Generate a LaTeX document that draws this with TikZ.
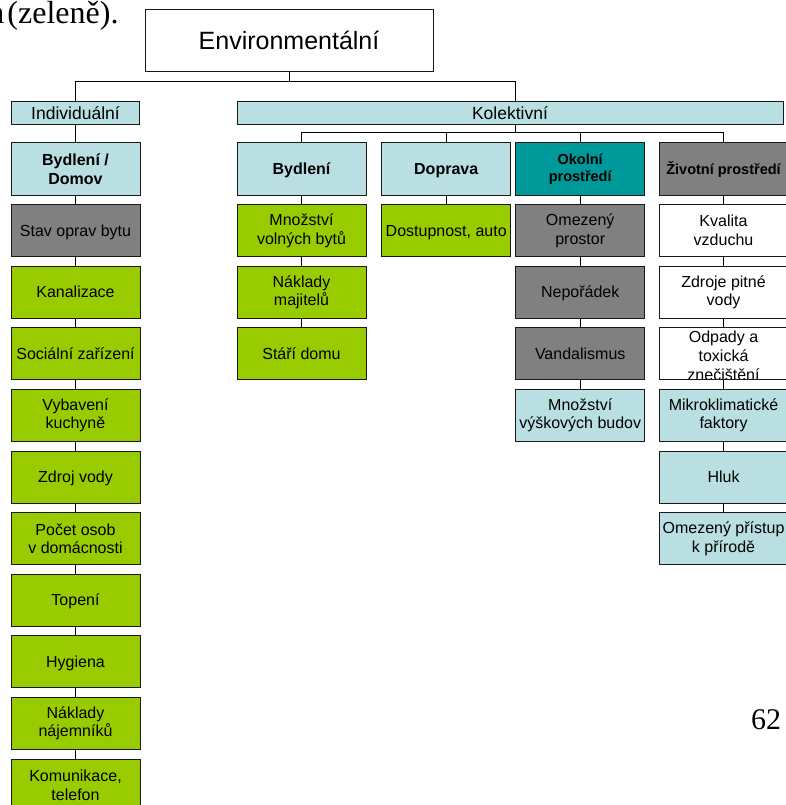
\documentclass[tikz,border=0pt]{standalone}
\usepackage{fontspec}
\setmainfont{Liberation Sans}
\newfontfamily\serifface{Liberation Serif}
\definecolor{cellblue}{RGB}{185,223,226}
\definecolor{cellgreen}{RGB}{153,204,0}
\definecolor{cellgray}{RGB}{128,128,128}
\definecolor{cellteal}{RGB}{0,153,153}
\begin{document}
\begin{tikzpicture}[x=1pt,y=-1pt,
  every node/.style={inner sep=0pt, outer sep=0pt},
  boxline/.style={draw=black!90, line width=1pt},
  link/.style={draw=black, line width=1pt},
  cell/.style={boxline, minimum width=129pt, minimum height=52pt, align=center,
    font=\fontsize{16}{18.7}\selectfont},
  head/.style={cell, font=\fontsize{16}{19.2}\selectfont\bfseries},
  headsmall/.style={cell, font=\fontsize{14.5}{17.4}\selectfont\bfseries},
  one/.style={text height=11.5pt, text depth=0pt},
  onesmall/.style={text height=10.4pt, text depth=0pt},
  fblue/.style={fill=cellblue},
  fgreen/.style={fill=cellgreen},
  fgray/.style={fill=cellgray},
  fteal/.style={fill=cellteal},
  fwhite/.style={fill=white}]
\useasboundingbox (0,0) rectangle (786,805);
\clip (0,0) rectangle (786,805);

% running text and page number
\node[font=\serifface\fontsize{32}{38}\selectfont, anchor=base east] (capt) at (118.5,24) {n\hspace{3pt}(zeleně).};
\node[font=\serifface\fontsize{30}{36}\selectfont, anchor=base east] (pnum) at (781,729) {62};

% top levels
\node[boxline, fill=white, minimum width=288pt, minimum height=62pt,
  font=\fontsize{25}{30}\selectfont, text height=17.9pt, text depth=0pt] (env) at (289,41) {Environmentální};
\node[boxline, fblue, minimum width=128pt, minimum height=23pt,
  font=\fontsize{17.5}{21}\selectfont, text height=12.5pt, text depth=0pt] (ind) at (75.5,113.5) {Individuální};
\node[boxline, fblue, minimum width=546pt, minimum height=23pt,
  font=\fontsize{17.5}{21}\selectfont, text height=12.5pt, text depth=0pt] (kol) at (510,113.5) {Kolektivní};

% individual column
\node[head, fblue] (ind0) at (75.5,169) {Bydlení /\\Domov};
\node[cell, one, fgray] (ind1) at (75.5,230.6) {Stav oprav bytu};
\node[cell, one, fgreen] (ind2) at (75.5,292.2) {Kanalizace};
\node[cell, one, fgreen] (ind3) at (75.5,353.8) {Sociální zařízení};
\node[cell, fgreen] (ind4) at (75.5,415.4) {Vybavení\\kuchyně};
\node[cell, one, fgreen] (ind5) at (75.5,477) {Zdroj vody};
\node[cell, fgreen] (ind6) at (75.5,538.6) {Počet osob\\v domácnosti};
\node[cell, one, fgreen] (ind7) at (75.5,600.2) {Topení};
\node[cell, one, fgreen] (ind8) at (75.5,661.8) {Hygiena};
\node[cell, fgreen] (ind9) at (75.5,723.4) {Náklady\\nájemníků};
\node[cell, fgreen] (ind10) at (75.5,785) {Komunikace,\\telefon};

% housing
\node[head, one, fblue] (byd0) at (301.5,169) {Bydlení};
\node[cell, fgreen] (byd1) at (301.5,230.6) {Množství\\volných bytů};
\node[cell, fgreen] (byd2) at (301.5,292.2) {Náklady\\majitelů};
\node[cell, one, fgreen] (byd3) at (301.5,353.8) {Stáří domu};

% transport
\node[head, one, fblue] (dop0) at (446.2,169) {Doprava};
\node[cell, one, fgreen] (dop1) at (446.2,230.6) {Dostupnost, auto};

% surroundings
\node[headsmall, fteal] (oko0) at (580.2,169) {Okolní\\prostředí};
\node[cell, fgray] (oko1) at (580.2,230.6) {Omezený\\prostor};
\node[cell, one, fgray] (oko2) at (580.2,292.2) {Nepořádek};
\node[cell, one, fgray] (oko3) at (580.2,353.8) {Vandalismus};
\node[cell, fblue] (oko4) at (580.2,415.4) {Množství\\výškových budov};

% environment
\node[headsmall, onesmall, fgray] (ziv0) at (723.5,169) {Životní prostředí};
\node[cell, fwhite] (ziv1) at (723.5,230.6) {Kvalita\\vzduchu};
\node[cell, fwhite] (ziv2) at (723.5,292.2) {Zdroje pitné\\vody};
\node[cell, fwhite] (ziv3) at (723.5,353.8) {};
\begin{scope}
  \clip (ziv3.north west) rectangle (ziv3.south east);
  \node[align=center, font=\fontsize{16}{18.7}\selectfont, yshift=-2pt] (ziv3txt) at (ziv3) {Odpady a\\toxická\\znečištění};
\end{scope}
\draw[boxline] (ziv3.north west) rectangle (ziv3.south east);
\node[cell, fblue] (ziv4) at (723.5,415.4) {Mikroklimatické\\faktory};
\node[cell, one, fblue] (ziv5) at (723.5,477) {Hluk};
\node[cell, fblue] (ziv6) at (723.5,538.6) {Omezený přístup\\k přírodě};

% connectors of the top levels
\coordinate (ebus) at (289,82);
\coordinate (kbus) at (510,133);
\draw[link] (env.south) -- (ebus);
\draw[link] (ind.north) -- (ebus -| ind.north) -- (ebus -| oko0.west) -- (kol.north -| oko0.west);
\draw[link] (kol.south -| oko0.west) -- (kbus -| oko0.west);
\draw[link] (byd0.north) -- (kbus -| byd0.north) -- (kbus -| ziv0.north) -- (ziv0.north);
\foreach \h in {dop0,oko0}
  \draw[link] (kbus -| \h.north) -- (\h.north);
\draw[link] (ind.south) -- (ind0.north);

% connectors inside the columns
\foreach \a/\b in {ind0/ind1,ind1/ind2,ind2/ind3,ind3/ind4,ind4/ind5,ind5/ind6,
    ind6/ind7,ind7/ind8,ind8/ind9,ind9/ind10,
    byd0/byd1,byd1/byd2,byd2/byd3,dop0/dop1,
    oko0/oko1,oko1/oko2,oko2/oko3,oko3/oko4,
    ziv0/ziv1,ziv1/ziv2,ziv2/ziv3,ziv3/ziv4,ziv4/ziv5,ziv5/ziv6}
  \draw[link] (\a.south) -- (\b.north);
\end{tikzpicture}
\end{document}
